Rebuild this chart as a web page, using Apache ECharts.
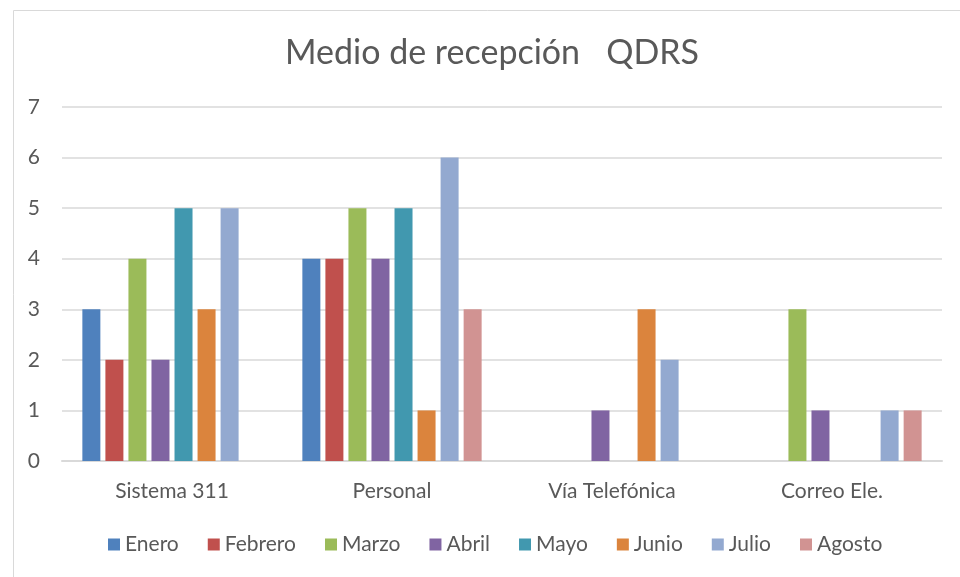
<!DOCTYPE html>
<html><head><meta charset="utf-8">
<script src="https://cdn.jsdelivr.net/npm/echarts@6/dist/echarts.min.js"></script>
<style>html,body{margin:0;padding:0;background:#fff}#c{width:960px;height:577px}</style>
</head><body><div id="c"></div>
<script>
const categories = ['Sistema 311', 'Personal', 'Vía Telefónica', 'Correo Ele.'];
const months = ['Enero', 'Febrero', 'Marzo', 'Abril', 'Mayo', 'Junio', 'Julio', 'Agosto'];
const enero   = [3, 4, null, null];
const febrero = [2, 4, null, null];
const marzo   = [4, 5, null, 3];
const abril   = [2, 4, 1, 1];
const mayo    = [5, 5, null, null];
const junio   = [3, 1, 3, null];
const julio   = [5, 6, 2, 1];
const agosto  = [null, 3, null, 1];
const yTicks = [0, 1, 2, 3, 4, 5, 6, 7];

const seriesData = [enero, febrero, marzo, abril, mayo, junio, julio, agosto];
const colors = ['#4F81BD', '#C0504D', '#9BBB59', '#8064A2', '#4198AF', '#DB843D', '#93A9D0', '#D19392'];
const font = 'Lato, "Open Sans", sans-serif';

const chart = echarts.init(document.getElementById('c'), null, {renderer: 'canvas'});
chart.setOption({
  animation: false,
  color: colors,
  graphic: [{
    type: 'rect', left: 11, top: 8, shape: {width: 960, height: 580},
    style: {fill: 'none', stroke: '#D9D9D9', lineWidth: 1}, silent: true
  }],
  title: {
    text: 'Medio de recepción   QDRS', left: 280, top: 31,
    textStyle: {fontFamily: font, fontSize: 34, fontWeight: 'normal', color: '#595959'}
  },
  legend: {
    data: months, bottom: 17, left: 103, itemWidth: 12, itemHeight: 12, itemGap: 29,
    icon: 'rect',
    textStyle: {fontFamily: font, fontSize: 21, color: '#595959'}
  },
  grid: {left: 62, right: 18, top: 107, bottom: 116},
  xAxis: {
    type: 'category', data: categories,
    axisLine: {lineStyle: {color: '#D9D9D9', width: 2}},
    axisTick: {show: false},
    axisLabel: {fontFamily: font, fontSize: 21, color: '#595959', margin: 20}
  },
  yAxis: {
    type: 'value', min: yTicks[0], max: yTicks[yTicks.length - 1], interval: 1,
    axisLine: {show: false}, axisTick: {show: false},
    splitLine: {lineStyle: {color: '#D9D9D9', width: 1.5}},
    axisLabel: {fontFamily: font, fontSize: 21, color: '#595959', margin: 22}
  },
  series: months.map((m, i) => ({
    name: m, type: 'bar', data: seriesData[i], barWidth: 18, barGap: '28%'
  }))
});
</script></body></html>
